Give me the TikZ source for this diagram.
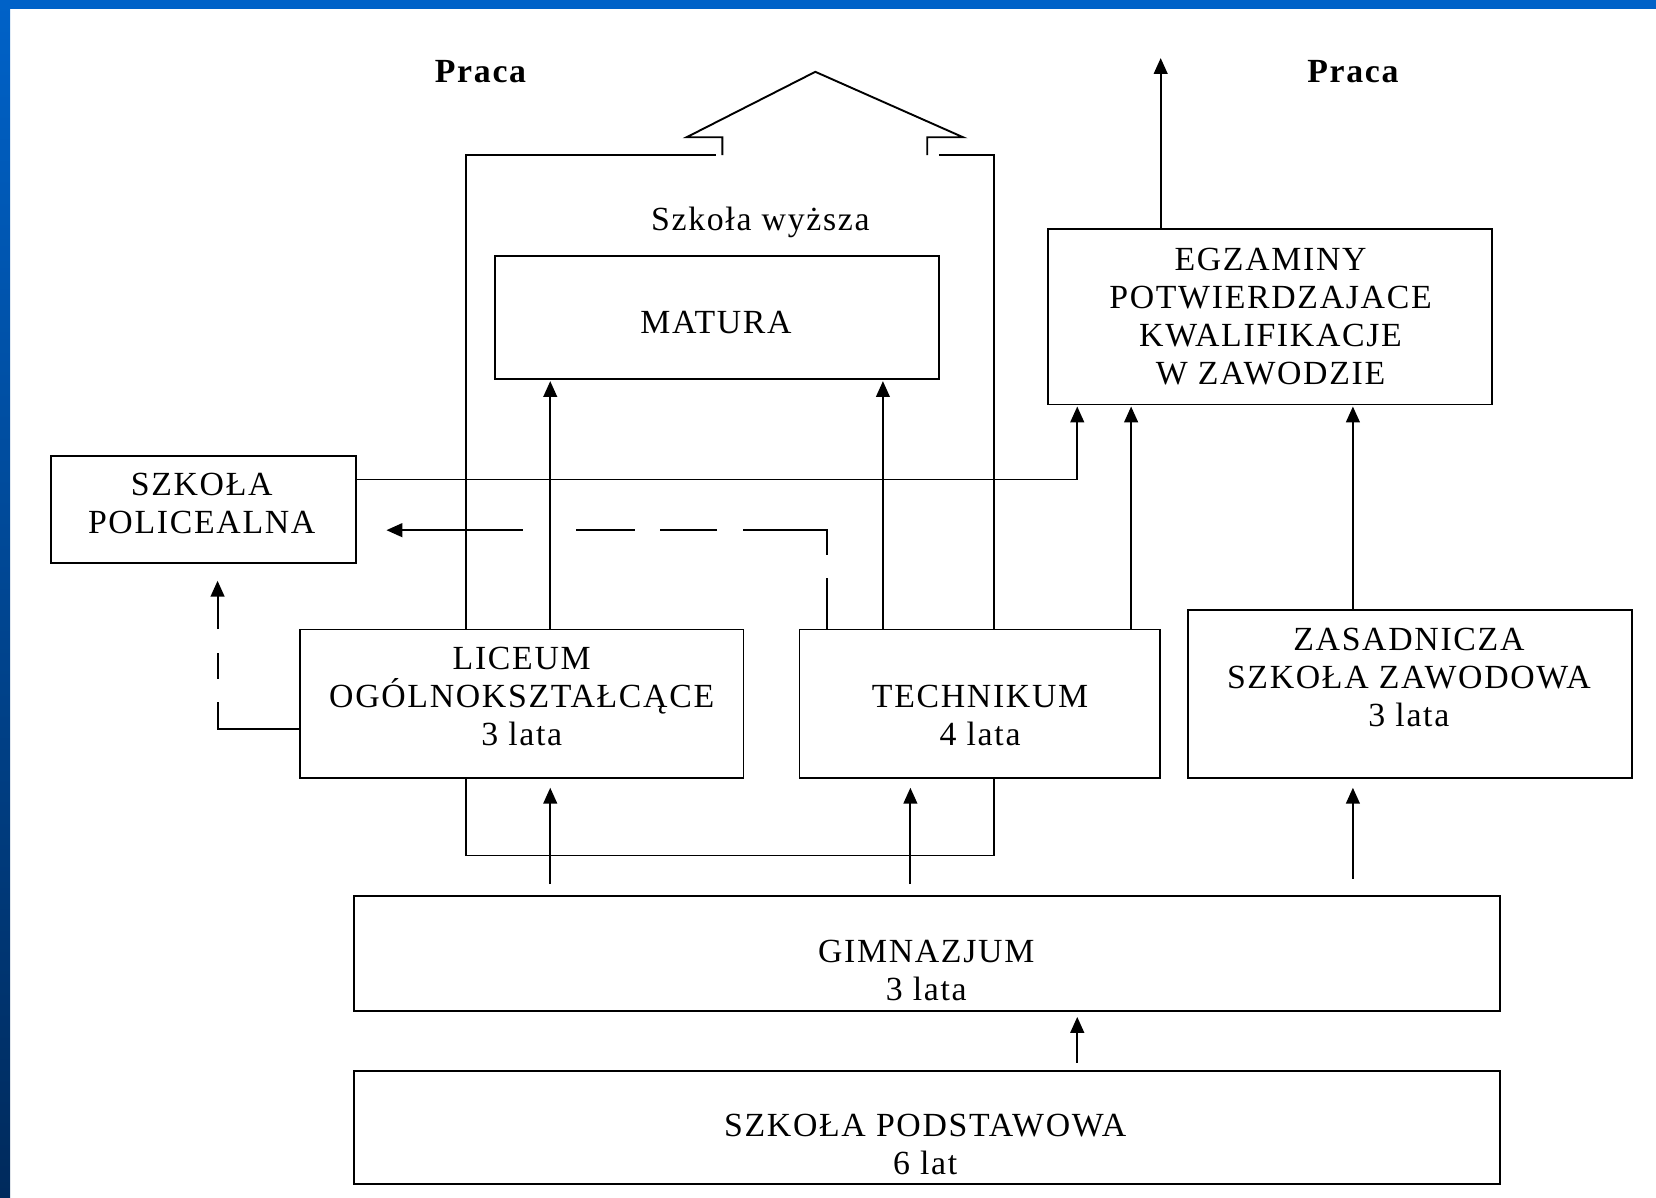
\documentclass[tikz,border=0pt]{standalone}
\usepackage{fontspec}
\setmainfont{Liberation Serif}
\newfontfamily\spfont[LetterSpace=5]{Liberation Serif}
\usetikzlibrary{arrows.meta}
\definecolor{bandtop}{RGB}{0,98,200}
\definecolor{bandbot}{RGB}{0,42,92}
\tikzset{
  box/.style={draw, rectangle, inner sep=0pt, line width=1.8pt},
  txt/.style={font=\spfont\fontsize{32}{36}\selectfont, align=center, inner sep=0pt},
  ttl/.style={font=\spfont\bfseries\fontsize{32}{36}\selectfont, inner sep=0pt},
  arr/.style={-{Triangle[length=15pt,width=13pt]}},
}
\begin{document}
\begin{tikzpicture}[x=1pt, y=-1pt, line width=1.8pt]
\useasboundingbox (0,0) rectangle (1568,1134);
\fill[white] (0,0) rectangle (1568,1134);
\shade[top color=bandtop, bottom color=bandbot] (0,0) rectangle (9.5,1134);
\fill[bandtop] (0,0) rectangle (1568,8.5);

% boxes
\node[box, minimum width=420pt, minimum height=117pt] (mat) at (679,300.5) {};
\node[box, minimum width=421pt, minimum height=166pt] (egz) at (1202.5,300) {};
\node[box, minimum width=289pt, minimum height=101pt] (pol) at (192.5,482.5) {};
\node[box, minimum width=420pt, minimum height=141pt] (lic) at (494,666.5) {};
\node[box, minimum width=341pt, minimum height=141pt] (tech) at (927.5,666.5) {};
\node[box, minimum width=420pt, minimum height=159pt] (zsz) at (1335,657.5) {};
\node[box, minimum width=1085pt, minimum height=109pt] (gim) at (877.5,902.5) {};
\node[box, minimum width=1085pt, minimum height=107pt] (pod) at (877.5,1067.5) {};

% texts
\node[txt] (tmat) at (678,305) {MATURA};
\node[txt] (tegz) at (1203,300) {EGZAMINY\\POTWIERDZAJACE\\KWALIFIKACJE\\W ZAWODZIE};
\node[txt] (tpol) at (191,477) {SZKOŁA\\POLICEALNA};
\node[txt] (tlic) at (494,659.5) {LICEUM\\OGÓLNOKSZTAŁCĄCE\\3 lata};
\node[txt] (ttech) at (928,677.5) {TECHNIKUM\\4 lata};
\node[txt] (tzsz) at (1334,641.5) {ZASADNICZA\\SZKOŁA ZAWODOWA\\3 lata};
\node[txt] (tgim) at (877,918.5) {GIMNAZJUM\\3 lata};
\node[txt] (tpod) at (876,1084) {SZKOŁA PODSTAWOWA\\6 lat};
\node[ttl] (praca1) at (455,68) {Praca};
\node[ttl] (praca2) at (1281,68) {Praca};
\node[txt] (wyz) at (720,211) {Szkoła wyższa};

% column coordinates
\coordinate (cA) at (521,0);
\coordinate (cB) at (836,0);
\coordinate (cC) at (1071,0);
\coordinate (cD) at (1281,0);
\coordinate (cE) at (1020,0);
\coordinate (cF) at (1099,0);
\coordinate (cG) at (783,0);
\coordinate (cI) at (862,0);
\coordinate (up) at (1099,55);

% building outline
\coordinate (wl) at (441,147);
\coordinate (wr) at (941,147);
\coordinate (bt) at (0,810);
\coordinate (r1) at (678,147);
\coordinate (r2) at (684,147);
\coordinate (r3) at (684,130);
\coordinate (r4) at (650,130);
\coordinate (apex) at (772,68);
\coordinate (r5) at (912,130);
\coordinate (r6) at (878,130);
\coordinate (r7) at (878,147);
\coordinate (r8) at (889,147);
\draw (lic.north -| wl) -- (wl) -- (r1);
\draw (r2) -- (r3) -- (r4) -- (apex) -- (r5) -- (r6) -- (r7);
\draw (r8) -- (wr) -- (tech.north -| wr);
\draw (lic.south -| wl) -- (wl |- bt) -- (wr |- bt) -- (tech.south -| wr);

% arrows
\draw[arr, shorten >=1pt] (lic.north -| cA) -- (mat.south -| cA);
\draw[arr, shorten >=1pt] (tech.north -| cB) -- (mat.south -| cB);
\draw[arr, shorten >=1pt] (tech.north -| cC) -- (egz.south -| cC);
\draw[arr, shorten >=1pt] (zsz.north -| cD) -- (egz.south -| cD);
\draw[arr, shorten >=1pt] ([yshift=28.5pt]pol.east) -| (egz.south -| cE);
\draw[arr] (egz.north -| cF) -- (up);
\draw[arr, dash pattern=on 48pt off 22pt on 103pt off 24pt on 54pt off 24pt on 56pt off 50pt on 400pt]
  (tech.north -| cG) |- ([xshift=28pt,yshift=-19.5pt]pol.east);
\draw[arr, dash pattern=on 103pt off 22pt on 24pt off 23pt on 300pt]
  ([yshift=-24pt]lic.west) -| ([xshift=13.5pt,yshift=-16pt]pol.south);
\draw[arr, shorten <=10pt, shorten >=8pt] (gim.north -| cA) -- (lic.south -| cA);
\draw[arr, shorten <=10pt, shorten >=8pt] (gim.north -| cI) -- (tech.south -| cI);
\draw[arr, shorten <=15pt, shorten >=8pt] (gim.north -| cD) -- (zsz.south -| cD);
\draw[arr, shorten <=7pt, shorten >=5pt] (pod.north -| cE) -- (gim.south -| cE);
\end{tikzpicture}
\end{document}
